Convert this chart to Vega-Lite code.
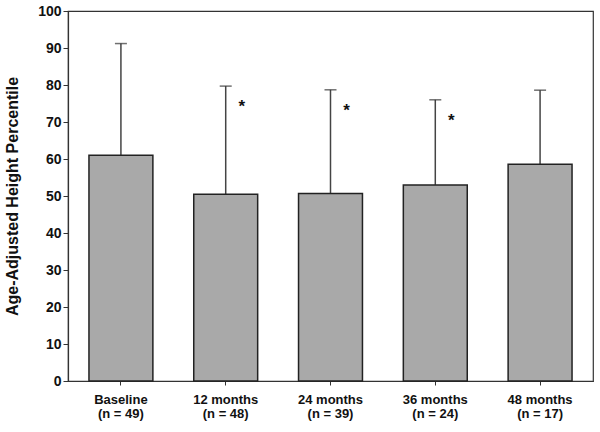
{
  "$schema": "https://vega.github.io/schema/vega-lite/v6.json",
  "autosize": "none",
  "width": 525,
  "height": 370,
  "padding": {"left": 68, "top": 11, "right": 7, "bottom": 51},
  "background": "white",
  "config": {
    "view": {"stroke": "#333333", "strokeWidth": 1.2},
    "font": "Liberation Sans"
  },
  "data": {
    "values": [
      {"label": "Baseline (n = 49)", "mean": 61.0, "upper": 91.2, "star": ""},
      {"label": "12 months (n = 48)", "mean": 50.5, "upper": 79.7, "star": "*"},
      {"label": "24 months (n = 39)", "mean": 50.7, "upper": 78.7, "star": "*"},
      {"label": "36 months (n = 24)", "mean": 53.0, "upper": 76.0, "star": "*"},
      {"label": "48 months (n = 17)", "mean": 58.6, "upper": 78.6, "star": ""}
    ]
  },
  "encoding": {
    "x": {
      "field": "label",
      "type": "nominal",
      "sort": null,
      "scale": {"paddingInner": 0.39, "paddingOuter": 0.2},
      "axis": {
        "title": null,
        "labelAngle": 0,
        "labelFont": "Liberation Sans",
        "labelFontWeight": "bold",
        "labelFontSize": 13,
        "labelColor": "#111111",
        "labelLineHeight": 14,
        "labelPadding": 8,
        "tickSize": 4,
        "tickColor": "#333333",
        "domainColor": "#333333",
        "domainWidth": 1.2,
        "labelExpr": "[slice(datum.label, 0, indexof(datum.label, ' (')), slice(datum.label, indexof(datum.label, ' (') + 1)]"
      }
    },
    "y": {
      "field": "mean",
      "type": "quantitative",
      "scale": {"domain": [0, 100], "nice": false},
      "axis": {
        "title": "Age-Adjusted Height Percentile",
        "titleFont": "Liberation Sans",
        "titleFontSize": 16,
        "titleFontWeight": "bold",
        "titleColor": "#111111",
        "titlePadding": 17,
        "values": [0, 10, 20, 30, 40, 50, 60, 70, 80, 90, 100],
        "labelOverlap": false,
        "grid": false,
        "labelFont": "Liberation Sans",
        "labelFontWeight": "bold",
        "labelFontSize": 14,
        "labelColor": "#111111",
        "labelPadding": 2,
        "tickSize": 5,
        "tickColor": "#333333",
        "domainColor": "#333333",
        "domainWidth": 1.2
      }
    }
  },
  "layer": [
    {
      "mark": {"type": "rule", "color": "#444444", "strokeWidth": 1.5},
      "encoding": {
        "y2": {"field": "upper"}
      }
    },
    {
      "mark": {"type": "tick", "color": "#333333", "thickness": 1.5, "size": 12},
      "encoding": {
        "y": {"field": "upper", "type": "quantitative", "axis": {"values": [0, 10, 20, 30, 40, 50, 60, 70, 80, 90, 100]}}
      }
    },
    {
      "mark": {"type": "bar", "fill": "#a9a9a9", "stroke": "#222222", "strokeWidth": 1.5},
      "encoding": {}
    },
    {
      "mark": {"type": "text", "fontSize": 17, "fontWeight": "bold", "dx": 16, "dy": 21, "color": "#111111"},
      "encoding": {
        "y": {"field": "upper", "type": "quantitative", "axis": {"values": [0, 10, 20, 30, 40, 50, 60, 70, 80, 90, 100]}},
        "text": {"field": "star"}
      }
    }
  ]
}
